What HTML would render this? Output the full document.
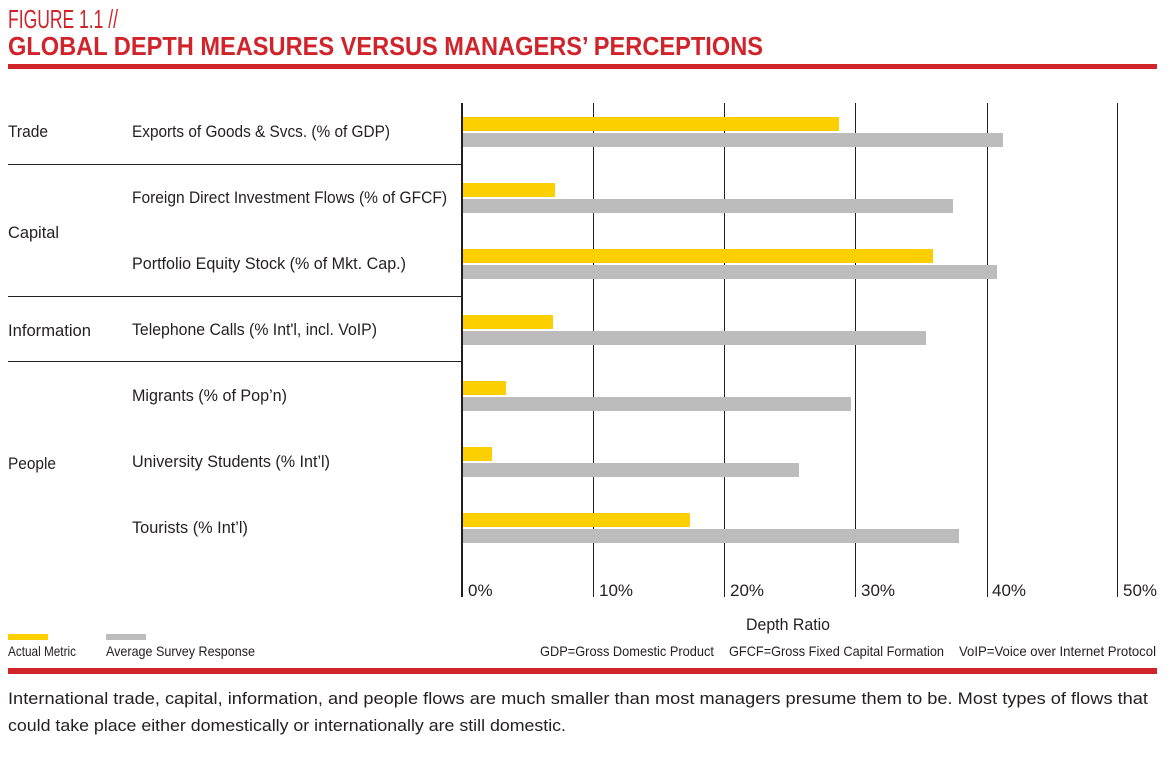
<!DOCTYPE html>
<html><head><meta charset="utf-8"><style>
html,body{margin:0;padding:0;background:#fff;}
svg text{font-family:"Liberation Sans Narrow","Liberation Sans",sans-serif;fill:#231f20;}
</style></head><body>
<svg width="1170" height="753" viewBox="0 0 1170 753" xmlns="http://www.w3.org/2000/svg">
<text x="8" y="28" font-size="26" fill="#d0232a" style="fill:#d0232a" textLength="110" lengthAdjust="spacingAndGlyphs">FIGURE 1.1 //</text>
<text x="8" y="55" font-size="26" font-weight="bold" style="fill:#d0232a" textLength="755" lengthAdjust="spacingAndGlyphs">GLOBAL DEPTH MEASURES VERSUS MANAGERS’ PERCEPTIONS</text>
<rect x="8" y="64" width="1149" height="5" fill="#d0232a"/>
<!-- grid -->
<g stroke="#231f20" stroke-width="1">
<line x1="593.5" y1="103" x2="593.5" y2="597"/>
<line x1="724.5" y1="103" x2="724.5" y2="597"/>
<line x1="855.5" y1="103" x2="855.5" y2="597"/>
<line x1="987.5" y1="103" x2="987.5" y2="597"/>
<line x1="1117.5" y1="103" x2="1117.5" y2="597"/>
<line x1="8" y1="164.5" x2="462" y2="164.5"/>
<line x1="8" y1="296.5" x2="462" y2="296.5"/>
<line x1="8" y1="361.5" x2="462" y2="361.5"/>
</g>
<line x1="462" y1="103" x2="462" y2="597" stroke="#231f20" stroke-width="2"/>
<!-- bars -->
<g fill="#fcd000">
<rect x="463" y="117" width="376" height="14"/>
<rect x="463" y="183" width="92" height="14"/>
<rect x="463" y="249" width="470" height="14"/>
<rect x="463" y="315" width="90" height="14"/>
<rect x="463" y="381" width="43" height="14"/>
<rect x="463" y="447" width="29" height="14"/>
<rect x="463" y="513" width="227" height="14"/>
</g>
<g fill="#bcbcbc">
<rect x="463" y="133" width="540" height="14"/>
<rect x="463" y="199" width="490" height="14"/>
<rect x="463" y="265" width="534" height="14"/>
<rect x="463" y="331" width="463" height="14"/>
<rect x="463" y="397" width="388" height="14"/>
<rect x="463" y="463" width="336" height="14"/>
<rect x="463" y="529" width="496" height="14"/>
</g>
<!-- labels -->
<g font-size="17">
<text x="8" y="137" textLength="40" lengthAdjust="spacingAndGlyphs">Trade</text>
<text x="8" y="238" textLength="51" lengthAdjust="spacingAndGlyphs">Capital</text>
<text x="8" y="336" textLength="83" lengthAdjust="spacingAndGlyphs">Information</text>
<text x="8" y="469" textLength="48" lengthAdjust="spacingAndGlyphs">People</text>
<text x="132" y="137" textLength="258" lengthAdjust="spacingAndGlyphs">Exports of Goods &amp; Svcs. (% of GDP)</text>
<text x="132" y="203" textLength="315" lengthAdjust="spacingAndGlyphs">Foreign Direct Investment Flows (% of GFCF)</text>
<text x="132" y="269" textLength="274" lengthAdjust="spacingAndGlyphs">Portfolio Equity Stock (% of Mkt. Cap.)</text>
<text x="132" y="335" textLength="245" lengthAdjust="spacingAndGlyphs">Telephone Calls (% Int'l, incl. VoIP)</text>
<text x="132" y="401" textLength="155" lengthAdjust="spacingAndGlyphs">Migrants (% of Pop’n)</text>
<text x="132" y="467" textLength="198" lengthAdjust="spacingAndGlyphs">University Students (% Int’l)</text>
<text x="132" y="533" textLength="116" lengthAdjust="spacingAndGlyphs">Tourists (% Int’l)</text>
<text x="468" y="596">0%</text>
<text x="599" y="596">10%</text>
<text x="730" y="596">20%</text>
<text x="861" y="596">30%</text>
<text x="992" y="596">40%</text>
<text x="1123" y="596">50%</text>
<text x="746" y="630" textLength="84" lengthAdjust="spacingAndGlyphs">Depth Ratio</text>
</g>
<rect x="8" y="634" width="40" height="6" fill="#fcd000"/>
<rect x="106" y="634" width="40" height="6" fill="#bcbcbc"/>
<g font-size="14">
<text x="8" y="656" textLength="68" lengthAdjust="spacingAndGlyphs">Actual Metric</text>
<text x="106" y="656" textLength="149" lengthAdjust="spacingAndGlyphs">Average Survey Response</text>
<text x="540" y="656" textLength="174" lengthAdjust="spacingAndGlyphs">GDP=Gross Domestic Product</text>
<text x="729" y="656" textLength="215" lengthAdjust="spacingAndGlyphs">GFCF=Gross Fixed Capital Formation</text>
<text x="959" y="656" textLength="197" lengthAdjust="spacingAndGlyphs">VoIP=Voice over Internet Protocol</text>
</g>
<rect x="8" y="668" width="1149" height="6" fill="#d0232a"/>
<g font-size="17" style="font-family:'Liberation Sans',sans-serif">
<text x="8" y="704" textLength="1140" lengthAdjust="spacingAndGlyphs">International trade, capital, information, and people flows are much smaller than most managers presume them to be. Most types of flows that</text>
<text x="8" y="731" textLength="558" lengthAdjust="spacingAndGlyphs">could take place either domestically or internationally are still domestic.</text>
</g>
</svg>
</body></html>
